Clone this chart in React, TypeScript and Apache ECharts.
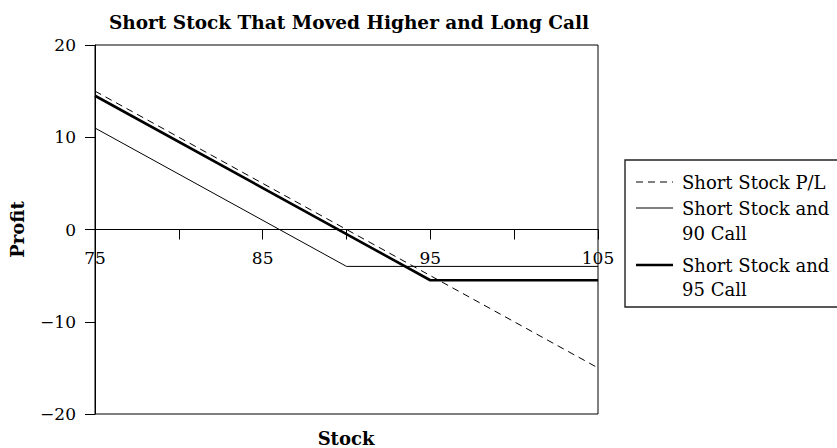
import React, { useEffect, useRef } from "react";
import * as echarts from "echarts";

const chartTitle = "Short Stock That Moved Higher and Long Call";
const xAxisName = "Stock";
const yAxisName = "Profit";

const seriesNames = ["Short Stock P/L", "Short Stock and 90 Call", "Short Stock and 95 Call"];
const legendLines = [["Short Stock P/L"], ["Short Stock and", "90 Call"], ["Short Stock and", "95 Call"]];

const shortStockX = [75, 105];
const shortStockPL = [15, -15];
const call90X = [75, 90, 105];
const call90PL = [11, -4, -4];
const call95X = [75, 95, 105];
const call95PL = [14.5, -5.5, -5.5];

const xLabelValues = [75, 85, 95, 105];
const yMin = -20;
const yMax = 20;
const xMin = 75;
const xMax = 105;

const FONT = "DejaVu Serif";

function pairs(xs: number[], ys: number[]) {
  return xs.map((x, i) => [x, ys[i]]);
}

export default function App() {
  const ref = useRef<HTMLDivElement>(null);

  useEffect(() => {
    if (!ref.current) return;
    const chart = echarts.init(ref.current, undefined, { renderer: "svg" });

    const styles = [
      { width: 1, type: [7, 5] as any },
      { width: 1, type: "solid" as any },
      { width: 2.6, type: "solid" as any },
    ];

    const gridTop = 45;
    const gridBottom = 34;
    const gridHeight = 448 - gridTop - gridBottom;
    // offset that moves the bottom x axis up to the value 0 of the y axis
    const zeroOffset = -gridHeight * ((0 - yMin) / (yMax - yMin));

    const legendX = 625;
    const legendY = 160;
    const sampleX1 = 636;
    const sampleX2 = 673;
    const textX = 682;
    const rowYs = [[182], [208, 233], [265, 289]];

    const legendGraphics: any[] = [
      {
        type: "rect",
        shape: { x: legendX, y: legendY, width: 240, height: 147 },
        style: { fill: "none", stroke: "#222", lineWidth: 1.4 },
      },
    ];
    legendLines.forEach((lines, i) => {
      legendGraphics.push({
        type: "line",
        shape: { x1: sampleX1, y1: rowYs[i][0], x2: sampleX2, y2: rowYs[i][0] },
        style: {
          stroke: "#000",
          lineWidth: styles[i].width,
          lineDash: i === 0 ? [7, 5] : null,
        },
      });
      lines.forEach((t, j) => {
        legendGraphics.push({
          type: "text",
          x: textX,
          y: rowYs[i][j],
          style: {
            text: t,
            fill: "#000",
            font: `18px "${FONT}"`,
            textAlign: "left",
            textVerticalAlign: "middle",
          },
        });
      });
    });

    const option: any = {
      animation: false,
      backgroundColor: "#fff",
      title: {
        text: chartTitle,
        left: 344,
        top: 8,
        textAlign: "center",
        textStyle: { fontFamily: FONT, fontSize: 18.5, fontWeight: "bold", color: "#000" },
      },
      grid: {
        left: 93,
        right: 239,
        top: gridTop,
        bottom: gridBottom,
        show: true,
        borderColor: "#000",
        borderWidth: 1,
        backgroundColor: "transparent",
      },
      xAxis: {
        type: "value",
        min: xMin,
        max: xMax,
        interval: 5,
        position: "bottom",
        offset: zeroOffset,
        axisLine: { show: true, onZero: false, lineStyle: { color: "#000", width: 1 } },
        axisTick: { show: true, length: 10, inside: false, lineStyle: { color: "#000" } },
        axisLabel: {
          margin: 20,
          fontFamily: FONT,
          fontSize: 17,
          color: "#000",
          formatter: (v: number) => (xLabelValues.includes(v) ? String(v) : ""),
        },
        splitLine: { show: false },
      },
      yAxis: {
        type: "value",
        min: yMin,
        max: yMax,
        interval: 10,
        name: yAxisName,
        nameLocation: "middle",
        nameGap: 69,
        nameRotate: 90,
        nameTextStyle: { fontFamily: FONT, fontSize: 18, fontWeight: "bold", color: "#000" },
        axisLine: { show: true, onZero: false, lineStyle: { color: "#000", width: 1 } },
        axisTick: { show: true, length: 10, inside: false, lineStyle: { color: "#000" } },
        axisLabel: {
          margin: 19,
          fontFamily: FONT,
          fontSize: 17,
          color: "#000",
          formatter: (v: number) => (v < 0 ? "\u2212" + Math.abs(v) : String(v)),
        },
        splitLine: { show: false },
      },
      series: [
        {
          name: seriesNames[0],
          type: "line",
          data: pairs(shortStockX, shortStockPL),
          showSymbol: false,
          lineStyle: { color: "#000", width: styles[0].width, type: styles[0].type },
          z: 3,
        },
        {
          name: seriesNames[1],
          type: "line",
          data: pairs(call90X, call90PL),
          showSymbol: false,
          lineStyle: { color: "#000", width: styles[1].width },
          z: 3,
        },
        {
          name: seriesNames[2],
          type: "line",
          data: pairs(call95X, call95PL),
          showSymbol: false,
          lineStyle: { color: "#000", width: styles[2].width },
          z: 4,
        },
      ],
      graphic: [
        ...legendGraphics,
        {
          type: "text",
          x: 346,
          y: 438,
          style: {
            text: xAxisName,
            fill: "#000",
            font: `bold 18px "${FONT}"`,
            textAlign: "center",
            textVerticalAlign: "middle",
          },
        },
      ],
    };

    chart.setOption(option);
    return () => chart.dispose();
  }, []);

  return (
    <div
      ref={ref}
      style={{ position: "absolute", left: 0, top: 0, width: 837, height: 448, background: "#fff" }}
    />
  );
}
